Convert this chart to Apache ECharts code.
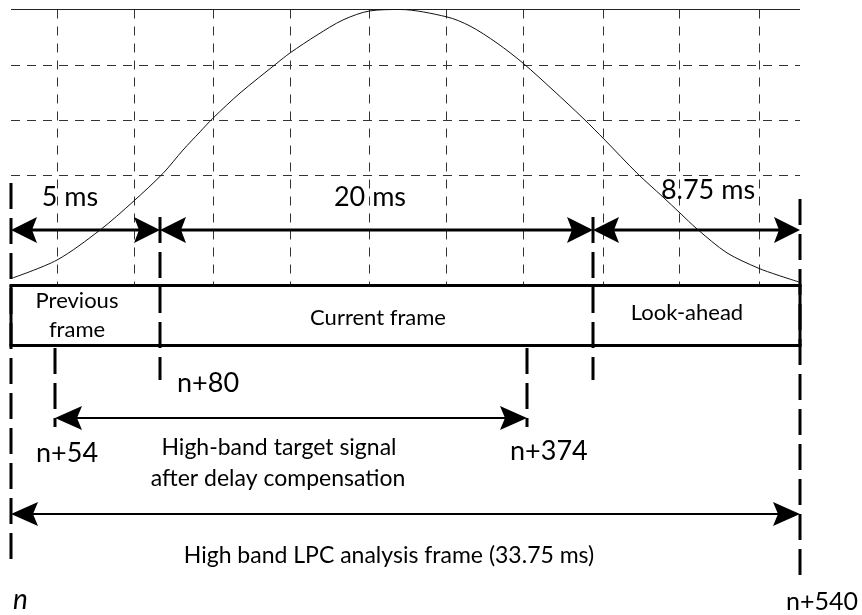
<!DOCTYPE html>
<html>
<head>
<meta charset="utf-8">
<script src="https://cdn.jsdelivr.net/npm/echarts@6/dist/echarts.min.js"></script>
<style>
html, body { margin: 0; padding: 0; background: #fff; }
#chart { width: 862px; height: 615px; }
</style>
</head>
<body>
<div id="chart"></div>
<script>
// analysis window shape (x position along the frame, relative amplitude)
var winX   = [12, 57, 100, 133, 163, 183, 200, 213, 240, 277, 290, 317, 343, 370, 400, 447, 470, 497, 523, 553, 583, 605, 637, 663, 680, 697, 727, 758, 777, 799];
var winAmp = [0.023, 0.089, 0.198, 0.301, 0.404, 0.489, 0.555, 0.605, 0.696, 0.805, 0.842, 0.907, 0.962, 0.995, 1.0, 0.973, 0.94, 0.878, 0.805, 0.707, 0.605, 0.525, 0.405, 0.318, 0.26, 0.202, 0.115, 0.06, 0.035, 0.009];

// dashed background grid
var gridCols = [57, 134, 213, 290, 369, 446, 523, 603, 679, 759];
var gridRows = [0.4, 0.6, 0.8];

// frame boundaries (sample markers)
var markX      = [11, 55, 160, 527, 593, 800];
var markTop    = [183, 348, 217, 348, 217, 199];
var markBottom = [560, 427, 380, 427, 380, 578];

// dimension arrows
var arrowFrom = [11, 160, 593, 55, 11];
var arrowTo   = [160, 593, 800, 527, 800];
var arrowRow  = [230, 230, 230, 418, 514];

// texts
var labels = ['5 ms', '20 ms', '8.75 ms', 'Previous', 'frame', 'Current frame', 'Look-ahead',
              'n+80', 'n+54', 'n+374', 'High-band target signal', 'after delay compensation',
              'High band LPC analysis frame (33.75 ms)', 'n', 'n+540'];

// where each text goes
var labelLayout = [
    {x: 70,  y: 197, size: 27},
    {x: 370, y: 197, size: 27},
    {x: 708, y: 190, size: 27},
    {x: 77,  y: 301, size: 22},
    {x: 77,  y: 330, size: 22},
    {x: 378, y: 318, size: 22},
    {x: 687, y: 313, size: 22},
    {x: 177, y: 383, size: 27, align: 'left'},
    {x: 36,  y: 453, size: 27, align: 'left'},
    {x: 510, y: 451, size: 27, align: 'left'},
    {x: 279, y: 448, size: 23},
    {x: 278, y: 479, size: 23},
    {x: 389, y: 556, size: 23},
    {x: 13,  y: 600, size: 28, align: 'left', italic: true},
    {x: 786, y: 602, size: 25, align: 'left'}
]

var FONT = 'Lato'
var myChart = echarts.init(document.getElementById('chart'))

function head(tip, dir, len, half) {
    var back = tip[0] - dir * len
    return {
        type: 'polygon',
        shape: {points: [tip, [back, tip[1] - half], [back + dir * 5, tip[1]], [back, tip[1] + half]]},
        style: {fill: '#000'}
    }
}

var option = {
    animation: false,
    backgroundColor: '#fff',
    grid: [
        {left: 0, top: 0, width: 862, height: 615},
        // window area
        {left: 11, top: 9.5, width: 789, height: 275}
    ],
    xAxis: [
        {type: 'value', min: 0, max: 862, show: false, gridIndex: 0},
        {type: 'value', min: 11, max: 800, show: false, gridIndex: 1}
    ],
    yAxis: [
        {type: 'value', min: 0, max: 615, inverse: true, show: false, gridIndex: 0},
        {type: 'value', min: 0, max: 1, show: false, gridIndex: 1}
    ],
    series: [
        // grid lines
        {
            type: 'custom',
            xAxisIndex: 1,
            yAxisIndex: 1,
            clip: false,
            silent: true,
            data: [[0, 0]],
            renderItem: function (params, api) {
                var els = []
                gridCols.forEach(function (x) {
                    var a = api.coord([x, 1]), b = api.coord([x, 0])
                    els.push({type: 'line', shape: {x1: Math.round(a[0]) + 0.5, y1: a[1], x2: Math.round(a[0]) + 0.5, y2: b[1]},
                        style: {stroke: '#333', lineWidth: 1, lineDash: [9, 8]}})
                })
                gridRows.forEach(function (v) {
                    var a = api.coord([11, v]), b = api.coord([800, v])
                    els.push({type: 'line', shape: {x1: a[0], y1: Math.round(a[1]) + 0.5, x2: b[0], y2: Math.round(a[1]) + 0.5},
                        style: {stroke: '#333', lineWidth: 1, lineDash: [9, 7]}})
                })
                var t1 = api.coord([11, 1]), t2 = api.coord([800, 1])
                els.push({type: 'line', shape: {x1: t1[0], y1: t1[1], x2: t2[0], y2: t2[1]}, style: {stroke: '#222', lineWidth: 1}})
                return {type: 'group', children: els}
            }
        },
        // window curve
        {
            type: 'line',
            xAxisIndex: 1,
            yAxisIndex: 1,
            smooth: 0.3,
            symbol: 'none',
            clip: false,
            lineStyle: {color: '#111', width: 1},
            data: winX.map(function (x, i) { return [x, winAmp[i]] })
        },
        // frame box
        {
            type: 'custom',
            clip: false,
            silent: true,
            data: [[11, 285.5]],
            renderItem: function (params, api) {
                var a = api.coord([11, 285.5]), b = api.coord([800, 345.5])
                return {
                    type: 'group',
                    children: [
                        {type: 'line', shape: {x1: a[0] - 1.5, y1: a[1], x2: b[0] + 1.5, y2: a[1]}, style: {stroke: '#000', lineWidth: 3}},
                        {type: 'line', shape: {x1: a[0] - 1.5, y1: b[1], x2: b[0] + 1.5, y2: b[1]}, style: {stroke: '#000', lineWidth: 3}},
                        {type: 'line', shape: {x1: a[0], y1: a[1], x2: a[0], y2: b[1]}, style: {stroke: '#000', lineWidth: 3}},
                        {type: 'line', shape: {x1: b[0], y1: a[1], x2: b[0], y2: b[1]}, style: {stroke: '#000', lineWidth: 3}}
                    ]
                }
            }
        },
        // boundary markers
        {
            type: 'custom',
            clip: false,
            silent: true,
            data: markX.map(function (x, i) { return [x, markTop[i], markBottom[i]] }),
            renderItem: function (params, api) {
                var a = api.coord([api.value(0), api.value(1)]), b = api.coord([api.value(0), api.value(2)])
                return {type: 'line', shape: {x1: a[0], y1: a[1], x2: b[0], y2: b[1]},
                    style: {stroke: '#000', lineWidth: 3, lineDash: [26, 9]}}
            }
        },
        // arrows
        {
            type: 'custom',
            clip: false,
            silent: true,
            data: arrowFrom.map(function (x, i) { return [x, arrowTo[i], arrowRow[i]] }),
            renderItem: function (params, api) {
                var a = api.coord([api.value(0), api.value(2)]), b = api.coord([api.value(1), api.value(2)])
                var big = params.dataIndex < 3
                var len = big ? 26 : 27, half = big ? 13 : 12
                return {
                    type: 'group',
                    children: [
                        {type: 'line', shape: {x1: a[0] + 10, y1: a[1], x2: b[0] - 10, y2: b[1]}, style: {stroke: '#000', lineWidth: big ? 3 : 2}},
                        head(a, -1, len, half),
                        head(b, 1, len, half)
                    ]
                }
            }
        },
        // texts
        {
            type: 'custom',
            clip: false,
            silent: true,
            data: labels.map(function (t, i) { return [labelLayout[i].x, labelLayout[i].y] }),
            renderItem: function (params, api) {
                var l = labelLayout[params.dataIndex]
                var p = api.coord([api.value(0), api.value(1)])
                return {
                    type: 'text',
                    x: p[0],
                    y: p[1],
                    style: {
                        text: labels[params.dataIndex],
                        fill: '#000',
                        font: (l.italic ? 'italic ' : '') + l.size + 'px ' + FONT,
                        align: l.align || 'center',
                        verticalAlign: 'middle'
                    }
                }
            }
        }
    ]
}
myChart.setOption(option)
</script>
</body>
</html>
